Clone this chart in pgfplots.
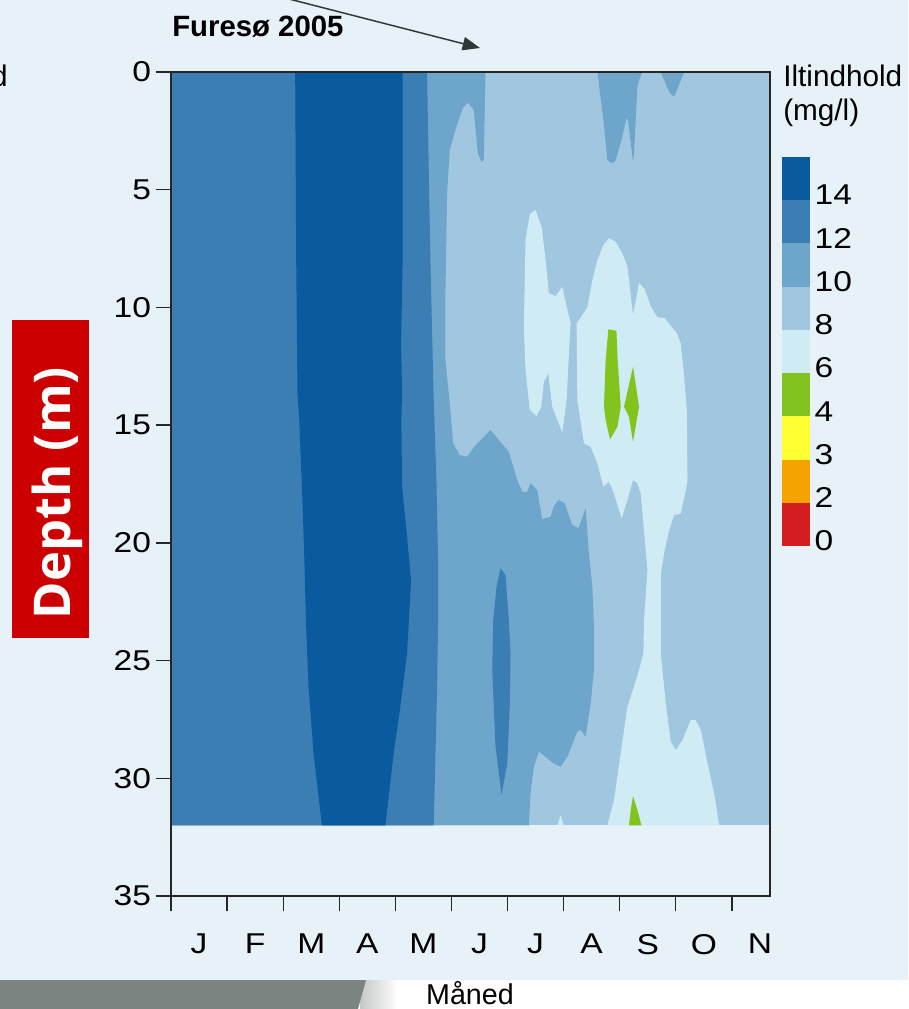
\documentclass[border=0pt]{standalone}
\usepackage{fontspec}
\setmainfont{Liberation Sans}
\newfontfamily\widesans[FakeStretch=1.17]{Liberation Sans}
\newfontfamily\opensans{Open Sans}
\usepackage{pgfplots}
\pgfplotsset{compat=1.18}
\usetikzlibrary{arrows.meta}
\definecolor{bg}{HTML}{E6F1F8}
\definecolor{grayb}{HTML}{7D8583}
\definecolor{cA}{HTML}{0A5B9E}% >=14
\definecolor{cB}{HTML}{3B7EB3}% 12-14
\definecolor{cC}{HTML}{6EA5CA}% 10-12
\definecolor{cD}{HTML}{A0C7DF}% 8-10
\definecolor{cE}{HTML}{CFEBF3}% 6-8
\definecolor{cF}{HTML}{82C31E}% 4-6
\definecolor{cG}{HTML}{FFFF33}% 3-4
\definecolor{cH}{HTML}{F4A300}% 2-3
\definecolor{cI}{HTML}{D31D20}% 0-2
\definecolor{depthred}{HTML}{CC0000}
\definecolor{arrowgray}{HTML}{2F3838}
\newcommand\fz{\widesans\fontsize{21.5pt}{26pt}\selectfont}
\newcommand\fl{\fontsize{22.3pt}{26pt}\selectfont}
\begin{document}
\begin{tikzpicture}
\useasboundingbox (0,0) rectangle (681pt,-756.75pt);
\clip (0,0) rectangle (681pt,-756.75pt);
\begin{scope}[x=0.75pt,y=-0.75pt]
\fill[bg] (0,0) rectangle (908,980);
\fill[white] (0,980) rectangle (908,1009);
\shade[left color=grayb!45, right color=white] (360,980) rectangle (398,1009);
\fill[grayb] (0,980) -- (366,980) -- (358,1009) -- (0,1009) -- cycle;
\end{scope}

\begin{axis}[
  at={(128.25pt,-54pt)}, anchor=north west,
  scale only axis, width=449.25pt, height=618pt,
  xmin=0, xmax=10.68, ymin=0, ymax=35, y dir=reverse,
  axis on top,
  axis line style={line width=1pt, black!85},
  every tick/.style={line width=1pt, black!85},
  tick align=outside, tick pos=left,
  major tick length=11.5pt,
  xtick={0,...,10}, xticklabels={},
  ytick={0,5,...,35},
  extra x ticks={0.5,1.5,2.5,3.5,4.5,5.5,6.5,7.5,8.5,9.5,10.5},
  extra x tick labels={J,F,M,A,M,J,J,A,S,O,N},
  extra x tick style={major tick length=0pt, xticklabel style={yshift=-25pt}},
  ticklabel style={font=\fz},
  /pgf/number format/assume math mode=true,
]
% base 8-10
\addplot[fill=cD, draw=none, mark=none] coordinates {(0,0)(10.7,0)(10.7,32)(0,32)};
% 10-12 main
\addplot[fill=cC, draw=none, mark=none] coordinates {
(0,0) (5.607,0) (5.577,3.74) (5.536,3.81) (5.470,3.45) (5.398,1.61) (5.291,1.30) (5.202,1.54) (5.071,2.46) (4.970,3.31) (4.923,5.15) (4.893,9.40) (4.893,12.23) (4.982,14.36) (5.030,15.77) (5.148,16.27) (5.280,16.34) (5.429,15.85) (5.696,15.21) (6.023,16.13) (6.173,17.33) (6.263,17.83) (6.352,17.83) (6.411,17.46) (6.530,17.76) (6.620,18.99) (6.768,18.89) (6.821,18.47) (6.911,18.18) (7.018,18.31) (7.155,19.24) (7.268,19.37) (7.393,18.53) (7.452,20.45) (7.513,21.86) (7.541,23.56) (7.541,25.40) (7.482,26.82) (7.393,28.24) (7.304,27.95) (7.245,28.02) (7.066,29.09) (6.946,29.51) (6.827,29.37) (6.559,28.87) (6.470,29.51) (6.411,30.64) (6.380,32) (0,32)};
% 10-12 spikes at surface
\addplot[fill=cC, draw=none, mark=none] coordinates {
(7.602,0) (7.709,2.04) (7.780,3.74) (7.839,3.85) (7.898,3.85) (7.929,3.74) (8.048,2.75) (8.120,1.97) (8.148,2.04) (8.238,3.81) (8.255,3.45) (8.316,0.62) (8.345,0.34) (8.405,0)};
\addplot[fill=cC, draw=none, mark=none] coordinates {
(8.732,0) (8.852,0.69) (8.898,0.90) (8.970,1.05) (9.059,0.55) (9.148,0)};
% 12-14 left
\addplot[fill=cB, draw=none, mark=none] coordinates {
(0,0) (4.566,0) (4.589,3.31) (4.625,7.99) (4.684,13.93) (4.732,17.33) (4.762,20.73) (4.762,23.28) (4.745,26.11) (4.684,32) (0,32)};
% >=14 band
\addplot[fill=cA, draw=none, mark=none] coordinates {
(2.214,0) (4.130,0) (4.130,7.99) (4.102,11.52) (4.120,13.65) (4.107,14.78) (4.120,17.62) (4.209,19.74) (4.280,21.58) (4.255,22.71) (4.209,24.69) (4.089,26.96) (3.970,28.94) (3.821,32) (2.691,32) (2.541,28.94) (2.452,26.11) (2.405,23.28) (2.375,20.45) (2.334,17.62) (2.286,14.78) (2.255,13.65) (2.232,7.99)};
% 12-14 island
\addplot[fill=cB, draw=none, mark=none] coordinates {
(5.875,21.08) (5.964,21.37) (6.023,23.28) (6.054,24.69) (6.041,26.82) (5.995,29.37) (5.893,30.71) (5.786,28.66) (5.727,25.40) (5.745,23.28) (5.804,21.86)};
% 6-8 left blob
\addplot[fill=cE, draw=none, mark=none] coordinates {
(6.500,5.86) (6.607,6.57) (6.679,7.99) (6.738,9.40) (6.857,9.52) (6.977,9.12) (7.054,9.97) (7.125,10.66) (7.089,12.23) (7.054,13.93) (6.977,15.32) (6.798,14.22) (6.727,12.80) (6.648,13.16) (6.602,14.22) (6.518,14.61) (6.398,14.36) (6.321,12.66) (6.291,10.82) (6.321,7.14) (6.398,6.03)};
% 6-8 right region
\addplot[fill=cE, draw=none, mark=none] coordinates {
(7.809,7.06) (7.929,7.21) (8.048,7.70) (8.138,8.27) (8.238,10.32) (8.345,8.95) (8.446,9.23) (8.554,9.97) (8.673,10.42) (8.804,10.46) (9.018,11.10) (9.089,11.52) (9.148,12.94) (9.196,14.36) (9.209,17.33) (9.179,17.76) (9.089,18.75) (8.970,18.82) (8.880,19.46) (8.791,20.45) (8.732,21.37) (8.732,24.69) (8.821,26.82) (8.911,28.45) (9.000,28.80) (9.120,28.38) (9.268,27.53) (9.357,27.53) (9.446,27.95) (9.566,29.37) (9.684,30.64) (9.773,32) (7.780,32) (7.898,30.93) (8.018,28.94) (8.138,26.96) (8.255,26.11) (8.345,25.40) (8.423,24.69) (8.434,23.28) (8.495,21.16) (8.375,17.90) (8.316,17.47) (8.238,17.33) (8.138,18.18) (8.036,18.96) (7.988,18.61) (7.887,17.83) (7.809,17.40) (7.709,17.62) (7.602,16.62) (7.482,15.92) (7.363,15.77) (7.245,13.93) (7.232,10.68) (7.423,10.00) (7.513,8.84) (7.602,7.99) (7.709,7.35)};
\addplot[fill=cE, draw=none, mark=none] coordinates {(6.893,32) (6.946,31.56) (7.000,32)};
% 4-6 patches
\addplot[fill=cF, draw=none, mark=none] coordinates {
(7.798,10.93) (7.941,10.99) (7.964,12.23) (8.018,14.22) (7.959,15.07) (7.827,15.60) (7.750,14.78) (7.720,14.22) (7.750,12.23)};
\addplot[fill=cF, draw=none, mark=none] coordinates {
(8.238,12.52) (8.345,14.22) (8.238,15.71) (8.166,14.64) (8.077,14.22)};
\addplot[fill=cF, draw=none, mark=none] coordinates {
(8.238,30.76) (8.316,31.35) (8.388,32) (8.166,32) (8.196,31.35)};
\end{axis}

% colour key
\begin{axis}[
  at={(586.5pt,-117.75pt)}, anchor=north west,
  scale only axis, width=21pt, height=291.75pt,
  xmin=0, xmax=1, ymin=0, ymax=9,
  axis line style={draw=none},
  xtick=\empty,
  ytick={0.12,1.12,2.12,3.12,4.12,5.12,6.12,7.12,8.12},
  yticklabels={0,2,3,4,6,8,10,12,14},
  yticklabel pos=right, ytick pos=right,
  major tick length=0pt,
  every tick/.style={draw=none},
  ticklabel style={font=\fz},
]
\addplot[fill=cI, draw=none, mark=none] coordinates {(0,0)(1,0)(1,1)(0,1)};
\addplot[fill=cH, draw=none, mark=none] coordinates {(0,1)(1,1)(1,2)(0,2)};
\addplot[fill=cG, draw=none, mark=none] coordinates {(0,2)(1,2)(1,3)(0,3)};
\addplot[fill=cF, draw=none, mark=none] coordinates {(0,3)(1,3)(1,4)(0,4)};
\addplot[fill=cE, draw=none, mark=none] coordinates {(0,4)(1,4)(1,5)(0,5)};
\addplot[fill=cD, draw=none, mark=none] coordinates {(0,5)(1,5)(1,6)(0,6)};
\addplot[fill=cC, draw=none, mark=none] coordinates {(0,6)(1,6)(1,7)(0,7)};
\addplot[fill=cB, draw=none, mark=none] coordinates {(0,7)(1,7)(1,8)(0,8)};
\addplot[fill=cA, draw=none, mark=none] coordinates {(0,8)(1,8)(1,9)(0,9)};
\end{axis}

\begin{scope}[x=0.75pt,y=-0.75pt]
\node[anchor=base west, inner sep=0pt, font=\fl] at (783,87) {Iltindhold};
\node[anchor=base west, inner sep=0pt, font=\fl] at (783,121) {(mg/l)};
\node[anchor=base east, inner sep=0pt, font=\fl] at (8,87) {Iltindhold};
\node[anchor=base west, inner sep=0pt, font=\fontsize{22pt}{26pt}\selectfont\bfseries] at (172,37) {Furesø 2005};
\node[anchor=base, inner sep=0pt, font=\fontsize{21.5pt}{26pt}\selectfont] at (470,1004) {Måned};
\fill[depthred] (12,320) rectangle (89,638);
\node[rotate=90, anchor=base, inner sep=0pt, text=white, font=\fontsize{38pt}{44pt}\selectfont\opensans\bfseries] at (70,493) {Depth (m)};
\draw[line width=1.1pt, arrowgray, -{Triangle[length=13pt,width=10pt]}] (250,-11) -- (480,48);
\end{scope}
\end{tikzpicture}
\end{document}
